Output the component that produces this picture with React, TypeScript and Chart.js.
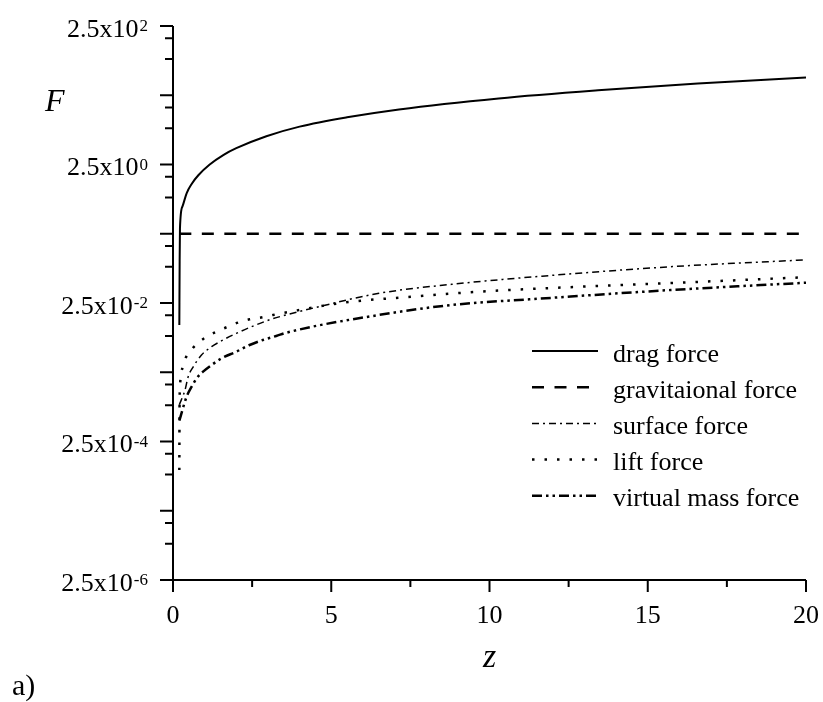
import React, { useEffect, useRef } from 'react';
import { Chart, registerables } from 'chart.js';

Chart.register(...registerables);

// Force magnitudes F along the channel coordinate z
const dragZ = [0.2, 0.21, 0.22, 0.3, 0.43, 0.6, 0.8, 1.16, 1.6, 2.0, 2.95, 4.0, 5.5, 7.14, 10.29, 13.43, 16.58, 20];
const dragF = [0.012, 0.1, 0.3, 0.62, 0.96, 1.33, 1.75, 2.5, 3.45, 4.3, 6.4, 8.8, 12.0, 15.6, 22.5, 29.5, 37.0, 45.0];

const gravZ = [0.2, 20];
const gravF = [0.25, 0.25];

const surfZ = [0.2, 0.38, 0.48, 0.64, 0.9, 1.22, 1.58, 2.0, 2.53, 3.05, 3.38, 4.5, 6.51, 8.81, 11.54, 15.73, 20];
const surfF = [8.5e-4, 1.39e-3, 2.16e-3, 3.0e-3, 4.43e-3, 5.85e-3, 7.3e-3, 9.1e-3, 0.0116, 0.0143, 0.0159, 0.0215, 0.0345, 0.0466, 0.0604, 0.0836, 0.105];

const liftZ = [0.2, 0.205, 0.22, 0.305, 0.41, 0.59, 0.8, 1.06, 1.37, 1.74, 2.05, 2.42, 2.74, 3.16, 3.52, 5.46, 7.56, 9.66, 11.76, 15.73, 20];
const liftF = [9.7e-5, 5.7e-4, 1.47e-3, 2.94e-3, 4.11e-3, 5.36e-3, 6.68e-3, 8.15e-3, 9.63e-3, 0.0114, 0.013, 0.01455, 0.0153, 0.0168, 0.0181, 0.0255, 0.0308, 0.0364, 0.0408, 0.0485, 0.059];

const vmZ = [0.2, 0.43, 0.59, 0.75, 0.95, 1.22, 1.53, 2.0, 2.42, 2.84, 3.26, 3.58, 6.51, 8.81, 11.54, 15.73, 20];
const vmF = [5e-4, 1.11e-3, 1.55e-3, 2.05e-3, 2.55e-3, 3.18e-3, 3.97e-3, 4.95e-3, 6.19e-3, 7.31e-3, 8.34e-3, 9.31e-3, 0.0168, 0.0234, 0.0288, 0.0385, 0.0491];

const seriesLabels = ['drag force', 'gravitaional force', 'surface force', 'lift force', 'virtual mass force'];

// Axis ticks
const xMajorTicks = [0, 5, 10, 15, 20];
const xMinorTicks = [2.5, 7.5, 12.5, 17.5];
const yMantissa = 2.5;
const yLabelText = '2.5x10';
const yLabelExponents = [2, 0, -2, -4, -6];
const yDecadeExponents = [2, 1, 0, -1, -2, -3, -4, -5, -6];
const yMinorFractions = [2 / 3, 1 / 3];

const SERIF = '"Liberation Serif", "Times New Roman", Times, serif';

const toPoints = (zs: number[], fs: number[]) => zs.map((z, i) => ({ x: z, y: fs[i] }));

const paperAxes = {
  id: 'paperAxes',
  afterDraw(chart: any) {
    const { ctx, chartArea: a, scales } = chart;
    const xs = scales.x;
    const ys = scales.y;
    ctx.save();
    ctx.strokeStyle = '#000';
    ctx.fillStyle = '#000';
    ctx.lineWidth = 2;
    ctx.lineCap = 'butt';
    ctx.setLineDash([]);

    // axis lines and tick marks
    ctx.beginPath();
    ctx.moveTo(a.left, a.top);
    ctx.lineTo(a.left, a.bottom + 1);
    ctx.moveTo(a.left, a.bottom);
    ctx.lineTo(a.right, a.bottom);
    yDecadeExponents.forEach((e) => {
      const v = yMantissa * Math.pow(10, e);
      const py = ys.getPixelForValue(v);
      ctx.moveTo(a.left - 13, py);
      ctx.lineTo(a.left, py);
      if (e > yDecadeExponents[yDecadeExponents.length - 1]) {
        yMinorFractions.forEach((f) => {
          const pm = ys.getPixelForValue(v * f);
          ctx.moveTo(a.left - 8, pm);
          ctx.lineTo(a.left, pm);
        });
      }
    });
    xMajorTicks.forEach((t) => {
      const px = xs.getPixelForValue(t);
      ctx.moveTo(px, a.bottom);
      ctx.lineTo(px, a.bottom + 12);
    });
    xMinorTicks.forEach((t) => {
      const px = xs.getPixelForValue(t);
      ctx.moveTo(px, a.bottom);
      ctx.lineTo(px, a.bottom + 7);
    });
    ctx.stroke();

    // y tick labels with superscript exponents
    const right = a.left - 25;
    yLabelExponents.forEach((e) => {
      const py = ys.getPixelForValue(yMantissa * Math.pow(10, e));
      const sup = String(e);
      ctx.font = `17px ${SERIF}`;
      const supW = ctx.measureText(sup).width;
      ctx.textAlign = 'left';
      ctx.textBaseline = 'alphabetic';
      ctx.fillText(sup, right - supW, py + 5);
      ctx.font = `26px ${SERIF}`;
      ctx.textAlign = 'right';
      ctx.fillText(yLabelText, right - supW - 1, py + 10.5);
    });

    // x tick labels
    ctx.font = `26px ${SERIF}`;
    ctx.textAlign = 'center';
    ctx.textBaseline = 'alphabetic';
    xMajorTicks.forEach((t) => {
      ctx.fillText(String(t), xs.getPixelForValue(t), a.bottom + 43);
    });

    // axis titles
    ctx.font = `italic 34px ${SERIF}`;
    ctx.textAlign = 'center';
    ctx.fillText('z', (a.left + a.right) / 2, a.bottom + 87);
    ctx.font = `italic 32px ${SERIF}`;
    ctx.textAlign = 'left';
    ctx.fillText('F', 45, 111);

    ctx.font = `30px ${SERIF}`;
    ctx.fillText('a)', 12, 695);

    // legend
    chart.data.datasets.forEach((ds: any, i: number) => {
      const ly = 351 + i * 36.2;
      ctx.save();
      ctx.lineWidth = ds.borderWidth;
      ctx.setLineDash(ds.borderDash || []);
      ctx.beginPath();
      ctx.moveTo(532, ly);
      ctx.lineTo(598, ly);
      ctx.stroke();
      ctx.restore();
      ctx.font = `26px ${SERIF}`;
      ctx.textAlign = 'left';
      ctx.textBaseline = 'alphabetic';
      ctx.fillText(ds.label, 613, ly + 10.5);
    });

    ctx.restore();
  },
};

export default function App() {
  const canvasRef = useRef<HTMLCanvasElement | null>(null);

  useEffect(() => {
    const canvas = canvasRef.current;
    if (!canvas) return;
    const common = {
      borderColor: '#000',
      backgroundColor: '#000',
      pointRadius: 0,
      fill: false,
      cubicInterpolationMode: 'monotone' as const,
      clip: false as const,
    };
    const chart = new Chart(canvas, {
      type: 'line',
      data: {
        datasets: [
          { ...common, label: seriesLabels[0], data: toPoints(dragZ, dragF), borderWidth: 2 },
          { ...common, label: seriesLabels[1], data: toPoints(gravZ, gravF), borderWidth: 2.5, borderDash: [12, 10.5] },
          { ...common, label: seriesLabels[2], data: toPoints(surfZ, surfF), borderWidth: 1.5, borderDash: [7, 4, 2, 4] },
          { ...common, label: seriesLabels[3], data: toPoints(liftZ, liftF), borderWidth: 2.5, borderDash: [2.5, 10] },
          { ...common, label: seriesLabels[4], data: toPoints(vmZ, vmF), borderWidth: 2.5, borderDash: [10, 4, 2.5, 4, 2.5, 4] },
        ],
      },
      options: {
        responsive: false,
        animation: false,
        devicePixelRatio: 1,
        layout: { padding: { left: 173, right: 17, top: 26, bottom: 122 } },
        plugins: { legend: { display: false }, tooltip: { enabled: false } },
        events: [],
        scales: {
          x: { type: 'linear', min: 0, max: 20, display: false },
          y: { type: 'logarithmic', min: 2.5e-6, max: 250, display: false },
        },
      },
      plugins: [paperAxes],
    });
    return () => chart.destroy();
  }, []);

  return (
    <div style={{ position: 'fixed', left: 0, top: 0, width: 823, height: 702, background: '#fff' }}>
      <canvas ref={canvasRef} width={823} height={702} style={{ display: 'block' }} />
    </div>
  );
}
